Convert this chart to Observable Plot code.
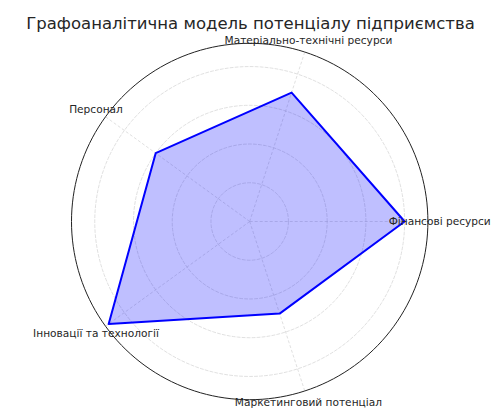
<!DOCTYPE html>
<html>
<head>
<meta charset="utf-8">
<script src="https://cdn.jsdelivr.net/npm/d3@7"></script>
<script src="https://cdn.jsdelivr.net/npm/@observablehq/plot@0.6"></script>
<style>
  html, body { margin: 0; padding: 0; background: #fff; }
  #wrap { position: relative; width: 501px; height: 408px; }
  #title { position: absolute; left: 0; top: 0; font-family: "DejaVu Sans", sans-serif; font-size: 16.5px; color: #262626;
           height: 36px; line-height: 48px; text-align: center; width: 501px; white-space: nowrap; pointer-events: none; }
  #chart svg { display: block; }
</style>
</head>
<body>
<div id="wrap">
<div id="chart"></div>
<div id="title">Графоаналітична модель потенціалу підприємства</div>
</div>
<script>
const categories = ["Фінансові ресурси", "Матеріально-технічні ресурси", "Персонал", "Інновації та технології", "Маркетинговий потенціал"];
const values = [8, 7, 6, 9, 5];
const rTicks = [2, 4, 6, 8];
const rMax = 9.2;

const W = 501, H = 408;
const cx = 249.2, cy = 221, Rpx = 178.2;
const k = Rpx / rMax;
const n = categories.length;
const ang = i => (i * 2 * Math.PI) / n;

const pts = categories.map((c, i) => ({c, v: values[i], x: values[i] * Math.cos(ang(i)), y: values[i] * Math.sin(ang(i))}));
const spokes = categories.map((c, i) => ({x1: 0, y1: 0, x2: rMax * Math.cos(ang(i)), y2: rMax * Math.sin(ang(i))}));
const labelR = 190 / k;
const labels = categories.map((c, i) => ({c, x: labelR * Math.cos(ang(i)), y: labelR * Math.sin(ang(i))}));
const ringPts = r => d3.range(0, 361, 2).map(a => ({r, x: r * Math.cos(a * Math.PI / 180), y: r * Math.sin(a * Math.PI / 180)}));
const rings = rTicks.flatMap(ringPts);
const outer = ringPts(rMax);

const xd = [-cx / k, (W - cx) / k];
const yd = [-(H - cy) / k, cy / k];

const plot = Plot.plot({
  width: W, height: H,
  margin: 0,
  x: {domain: xd, range: [0, W], axis: null},
  y: {domain: yd, range: [H, 0], axis: null},
  style: {fontFamily: "DejaVu Sans, sans-serif", background: "transparent"},
  marks: [
    Plot.line(rings, {x: "x", y: "y", z: "r", stroke: "#d2d2d2", strokeWidth: 0.7, strokeDasharray: "3,2"}),
    Plot.link(spokes, {x1: "x1", y1: "y1", x2: "x2", y2: "y2", stroke: "#d2d2d2", strokeWidth: 0.7, strokeDasharray: "3,2"}),
    Plot.line(outer, {x: "x", y: "y", stroke: "#222", strokeWidth: 1}),
    Plot.line(pts, {x: "x", y: "y", curve: "linear-closed", fill: "blue", fillOpacity: 0.25, stroke: "blue", strokeWidth: 2}),
    Plot.text(labels, {x: "x", y: "y", text: "c", fontSize: 10.6, fill: "#262626", textAnchor: "middle", lineAnchor: "middle"})
  ]
});
document.getElementById("chart").appendChild(plot);
</script>
</body>
</html>
